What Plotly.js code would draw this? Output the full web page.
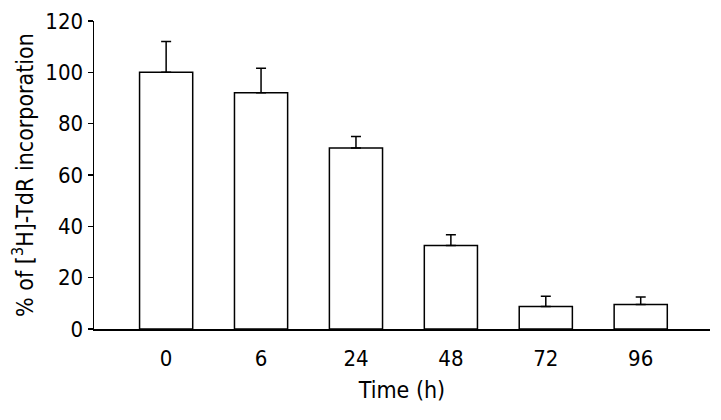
<!DOCTYPE html>
<html>
<head>
<meta charset="utf-8">
<script src="https://cdn.plot.ly/plotly-3.0.1.min.js"></script>
<style>
  html, body { margin: 0; padding: 0; background: #fff; }
  #chart { width: 721px; height: 420px; }
</style>
</head>
<body>
<div id="chart"></div>
<script>
// time points (h) and % incorporation
var timeLabels = ["0", "6", "24", "48", "72", "96"];
var incorporation = [100, 92, 70.5, 32.5, 8.8, 9.5];
var errUp = [12, 9.6, 4.5, 4.2, 4, 3];

var bars = [{
  type: "bar",
  x: timeLabels,
  y: incorporation,
  width: 0.56,
  marker: {
    color: "#ffffff",
    line: { color: "#000000", width: 1.5 }
  },
  error_y: {
    type: "data",
    symmetric: false,
    array: errUp,
    arrayminus: [0, 0, 0, 0, 0, 0],
    color: "#000000",
    thickness: 1.5,
    width: 5
  },
  hoverinfo: "none"
}];

var layout = {
  width: 721,
  height: 420,
  margin: { l: 94, r: 11, t: 21, b: 91 },
  paper_bgcolor: "#ffffff",
  plot_bgcolor: "#ffffff",
  font: { family: "DejaVu Sans Condensed, DejaVu Sans, sans-serif", size: 22, color: "#000" },
  showlegend: false,
  xaxis: {
    type: "category",
    range: [-0.76, 5.73],
    showline: true,
    linecolor: "#000",
    linewidth: 1.5,
    ticks: "",
    ticklabelstandoff: 9,
    showgrid: false,
    zeroline: false,
    automargin: false,
    tickfont: { size: 22 },
    title: { text: "Time (h)", font: { size: 23 }, standoff: 12 }
  },
  yaxis: {
    range: [0, 120],
    tickvals: [0, 20, 40, 60, 80, 100, 120],
    showline: true,
    linecolor: "#000",
    linewidth: 1.5,
    ticks: "outside",
    ticklen: 5,
    tickwidth: 1.5,
    tickcolor: "#000",
    showgrid: false,
    zeroline: false,
    automargin: false,
    tickfont: { size: 22 },
    title: { text: "% of [<sup>3</sup>H]-TdR incorporation", font: { size: 23 }, standoff: 5 }
  }
};

Plotly.newPlot("chart", bars, layout, { displayModeBar: false, staticPlot: true });
</script>
</body>
</html>
